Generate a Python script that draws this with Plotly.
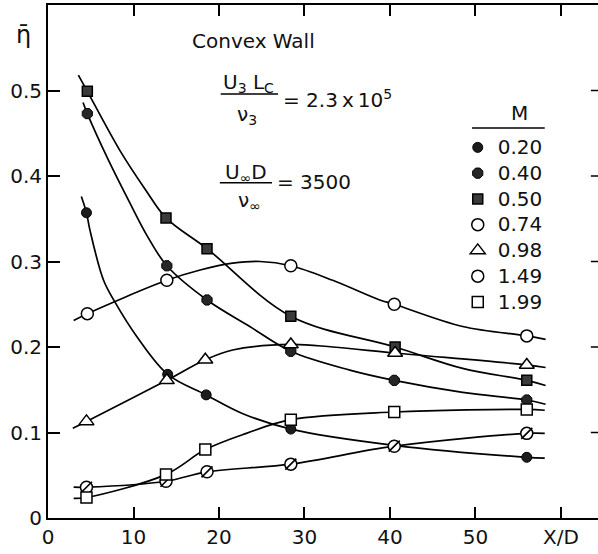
import plotly.graph_objects as go

# ---- measured points (X/D, eta-bar) ----
x_020 = [4.5, 14.0, 18.5, 28.4, 40.5, 56.0]
y_020 = [0.357, 0.168, 0.144, 0.104, 0.085, 0.071]
x_040 = [4.6, 13.9, 18.6, 28.4, 40.5, 56.0]
y_040 = [0.473, 0.295, 0.255, 0.195, 0.161, 0.138]
x_050 = [4.6, 13.8, 18.6, 28.4, 40.6, 56.0]
y_050 = [0.499, 0.351, 0.315, 0.236, 0.200, 0.161]
x_074 = [4.6, 13.9, 28.4, 40.5, 56.0]
y_074 = [0.239, 0.278, 0.295, 0.250, 0.213]
x_098 = [4.5, 13.9, 18.4, 28.4, 40.6, 56.0]
y_098 = [0.113, 0.161, 0.185, 0.203, 0.193, 0.179]
x_149 = [4.5, 13.8, 18.6, 28.4, 40.5, 56.0]
y_149 = [0.036, 0.043, 0.054, 0.063, 0.084, 0.099]
x_199 = [4.5, 13.8, 18.4, 28.4, 40.5, 56.0]
y_199 = [0.024, 0.051, 0.080, 0.115, 0.124, 0.127]

# ---- fitted curves ----
cx_020 = [3.9, 4.5, 4.9, 6.5, 7.8, 10.4, 14.0, 18.5, 22.8, 28.4, 40.5, 56.0, 58.1]
cy_020 = [0.376, 0.357, 0.337, 0.278, 0.253, 0.212, 0.168, 0.144, 0.122, 0.104, 0.085, 0.071, 0.070]
cx_040 = [4.1, 4.6, 7.0, 9.5, 11.6, 13.9, 18.6, 23.6, 28.4, 35.3, 40.5, 48.5, 56.0, 58.2]
cy_040 = [0.486, 0.473, 0.420, 0.370, 0.330, 0.295, 0.255, 0.224, 0.195, 0.173, 0.161, 0.147, 0.138, 0.133]
cx_050 = [3.55, 4.6, 8.4, 11.4, 13.8, 18.6, 28.4, 40.6, 48.5, 56.0, 58.2]
cy_050 = [0.518, 0.499, 0.430, 0.384, 0.351, 0.315, 0.236, 0.200, 0.175, 0.161, 0.155]
cx_074 = [3.0, 4.6, 13.9, 17.8, 21.6, 24.8, 28.4, 33.3, 38.8, 40.5, 48.5, 56.0, 58.2]
cy_074 = [0.231, 0.239, 0.278, 0.290, 0.298, 0.300, 0.295, 0.278, 0.255, 0.250, 0.224, 0.213, 0.209]
cx_098 = [2.9, 4.5, 13.9, 18.4, 21.6, 28.4, 33.3, 40.6, 56.0, 58.2]
cy_098 = [0.105, 0.113, 0.161, 0.185, 0.1965, 0.203, 0.200, 0.193, 0.179, 0.176]
cx_149 = [3.0, 4.5, 13.8, 18.6, 28.4, 40.5, 56.0, 58.1]
cy_149 = [0.036, 0.036, 0.043, 0.054, 0.063, 0.084, 0.099, 0.099]
cx_199 = [3.0, 4.5, 13.8, 18.4, 23.2, 28.4, 40.5, 56.0, 58.1]
cy_199 = [0.023, 0.024, 0.051, 0.080, 0.099, 0.115, 0.124, 0.127, 0.126]

labels = ["0.20", "0.40", "0.50", "0.74", "0.98", "1.49", "1.99"]

x_ticks = [0, 10, 20, 30, 40, 50, 60]
x_ticktext = ["0", "10", "20", "30", "40", "50", "X/D"]
y_ticks = [0, 0.1, 0.2, 0.3, 0.4, 0.5]
y_ticktext = ["0", "0.1", "0.2", "0.3", "0.4", "0.5"]

FONT = "DejaVu Sans"
INK = "#111111"

pts = [(x_020, y_020), (x_040, y_040), (x_050, y_050), (x_074, y_074),
       (x_098, y_098), (x_149, y_149), (x_199, y_199)]
curves = [(cx_020, cy_020), (cx_040, cy_040), (cx_050, cy_050), (cx_074, cy_074),
          (cx_098, cy_098), (cx_149, cy_149), (cx_199, cy_199)]
markers = [
    dict(symbol="circle", size=10, color="#1c1c1c", line=dict(color="#000", width=1)),
    dict(symbol="octagon", size=11, color="#262626", line=dict(color="#000", width=1)),
    dict(symbol="square", size=10, color="#3a3a3a", line=dict(color="#000", width=1.5)),
    dict(symbol="circle", size=12, color="white", line=dict(color="#000", width=1.5)),
    dict(symbol="triangle-up", size=13, color="white", line=dict(color="#000", width=1.5)),
    dict(symbol="circle", size=12, color="white", line=dict(color="#000", width=1.5)),
    dict(symbol="square", size=11, color="white", line=dict(color="#000", width=1.5)),
]

fig = go.Figure()
for cx, cy in curves:
    fig.add_trace(go.Scatter(x=cx, y=cy, mode="lines", showlegend=False,
                             line=dict(color="#000", width=1.7, shape="spline", smoothing=1.0),
                             hoverinfo="skip"))
for lab, (px, py), mk in zip(labels, pts, markers):
    fig.add_trace(go.Scatter(x=px, y=py, mode="markers", marker=mk,
                             name="<span style='font-size:20px'>%s</span>" % lab))
    if lab == "1.49":
        fig.add_trace(go.Scatter(x=px, y=py, mode="markers", showlegend=False,
                                 marker=dict(symbol="line-ne", size=11, color="#000",
                                             line=dict(color="#000", width=1.6))))

axis_font = dict(family=FONT, size=20, color=INK)
fig.update_layout(
    width=598, height=554,
    margin=dict(l=48, r=0, t=5, b=36),
    paper_bgcolor="white", plot_bgcolor="white",
    font=dict(family=FONT, color=INK),
    xaxis=dict(range=[0, 64.33], tickvals=x_ticks, ticktext=x_ticktext,
               showgrid=False, zeroline=False, showline=True, linecolor="#000",
               linewidth=2, mirror="ticks", ticks="inside", ticklen=11, tickwidth=1.5,
               tickcolor="#000", tickfont=axis_font),
    yaxis=dict(range=[0, 0.6], tickvals=y_ticks, ticktext=y_ticktext,
               showgrid=False, zeroline=False, showline=True, linecolor="#000",
               linewidth=2, ticks="inside", ticklen=12, tickwidth=1.5,
               tickcolor="#000", tickfont=axis_font),
    legend=dict(x=0.745, xanchor="left", y=0.7573, yanchor="top",
                bgcolor="rgba(0,0,0,0)", itemwidth=30, tracegroupgap=0,
                font=dict(family=FONT, size=17.5, color=INK)),
)

ann_font = dict(family=FONT, size=20, color=INK)
annotations = [
    dict(x=16.6, y=0.558, text="Convex Wall", xanchor="left", yanchor="middle", font=ann_font),
    dict(x=23.5, y=0.509, text="U<sub>3</sub> L<sub>C</sub>", xanchor="center", yanchor="middle", font=ann_font),
    dict(x=23.3, y=0.471, text="\u03bd<sub>3</sub>", xanchor="center", yanchor="middle", font=ann_font),
    dict(x=27.2, y=0.490, text="= 2.3\u2009x\u200910<sup>5</sup>", xanchor="left", yanchor="middle", font=ann_font),
    dict(x=23.2, y=0.404, text="U<sub>\u221e</sub>D", xanchor="center", yanchor="middle", font=ann_font),
    dict(x=23.6, y=0.371, text="\u03bd<sub>\u221e</sub>", xanchor="center", yanchor="middle", font=ann_font),
    dict(x=26.6, y=0.393, text="= 3500", xanchor="left", yanchor="middle", font=ann_font),
    dict(x=55.2, y=0.4737, text="M", xanchor="center", yanchor="middle", font=ann_font),
    dict(x=-0.045, y=0.942, xref="paper", yref="paper", text="\u03b7\u0304",
         xanchor="center", yanchor="middle", font=dict(family=FONT, size=24, color=INK)),
]
for a in annotations:
    a.setdefault("xref", "x")
    a.setdefault("yref", "y")
    a["showarrow"] = False
fig.update_layout(annotations=annotations)

shapes = [
    dict(type="line", xref="x", yref="y", x0=20.2, x1=26.9, y0=0.496, y1=0.496,
         line=dict(color="#000", width=1.5)),
    dict(type="line", xref="x", yref="y", x0=20.1, x1=26.2, y0=0.392, y1=0.392,
         line=dict(color="#000", width=1.5)),
    dict(type="line", xref="x", yref="y", x0=49.6, x1=58.1, y0=0.456, y1=0.456,
         line=dict(color="#000", width=1.5)),
]
# right-hand border ticks (the frame's right edge lies just outside the picture)
for v in y_ticks[1:]:
    shapes.append(dict(type="line", xref="paper", yref="y", x0=0.987, x1=1.0, y0=v, y1=v,
                       line=dict(color="#000", width=1.5)))
fig.update_layout(shapes=shapes)

fig.write_html("out.html")
